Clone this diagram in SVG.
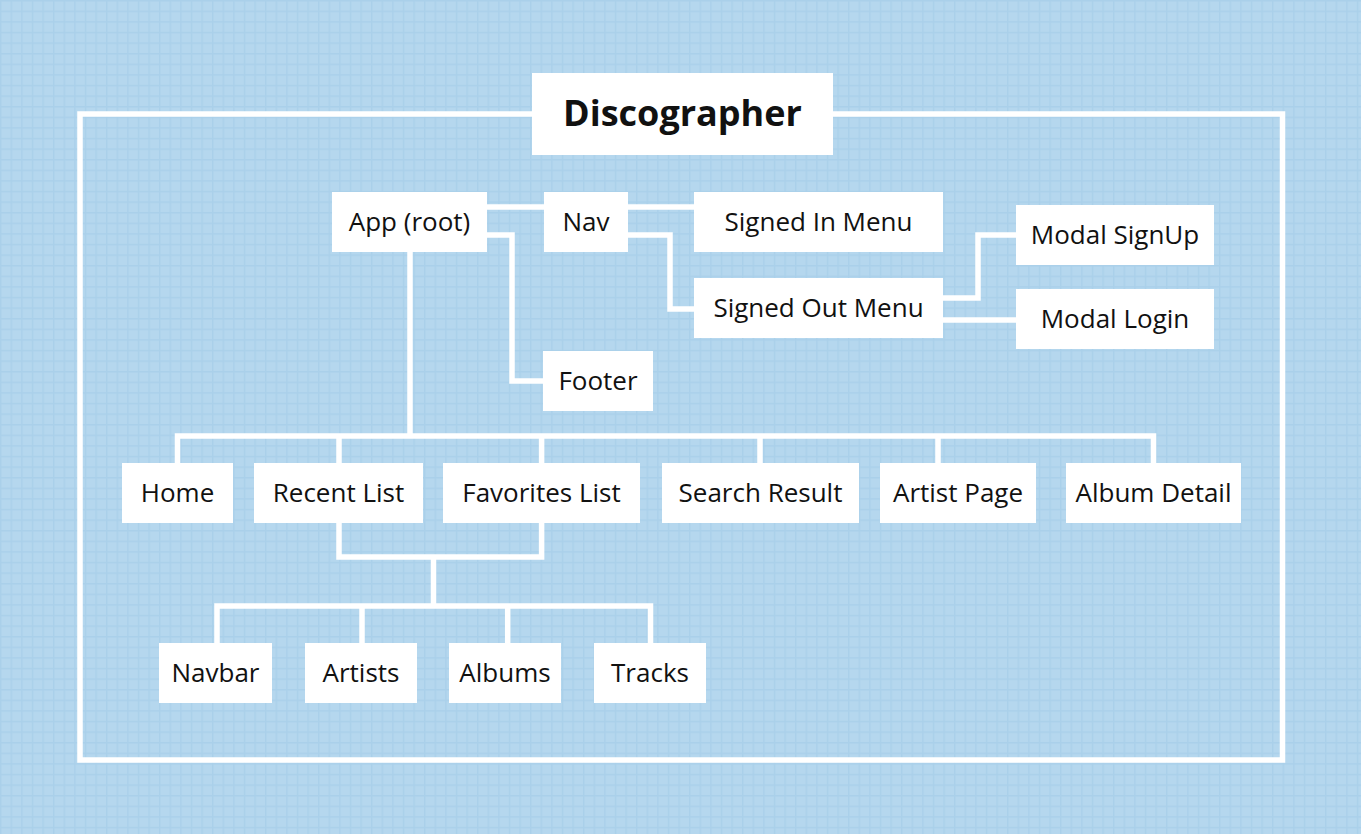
<svg xmlns="http://www.w3.org/2000/svg" width="1361" height="834" viewBox="0 0 1361 834">
  <defs>
    <pattern id="grid" width="10.6" height="10.6" patternUnits="userSpaceOnUse">
      <rect width="10.6" height="10.6" fill="#b5d7ee"/>
      <path d="M0,0.7 H10.6 M0.7,0 V10.6" stroke="#aad0ea" stroke-width="1.4" fill="none"/>
    </pattern>
    <style>
      .box { fill: #ffffff; }
      .lbl { font-family: "Open Sans", "Noto Sans", "Liberation Sans", sans-serif; font-size: 26px; fill: #111111; text-anchor: middle; }
      .title { font-family: "Open Sans", "Noto Sans", "Liberation Sans", sans-serif; font-size: 36px; font-weight: bold; fill: #111111; text-anchor: middle; }
      .wire { fill: none; stroke: #ffffff; stroke-width: 5.5; stroke-linejoin: miter; stroke-linecap: butt; }
    </style>
  </defs>
  <rect width="1361" height="834" fill="url(#grid)"/>
  <rect x="80" y="114" width="1202.5" height="646" fill="none" stroke="#ffffff" stroke-width="5.5"/>

  <g id="connectors">
    <path class="wire" d="M487,207 H694"/>
    <path class="wire" d="M628,235 H670 V309 H694"/>
    <path class="wire" d="M487,235 H512 V381 H543"/>
    <path class="wire" d="M943,298 H978 V235 H1016"/>
    <path class="wire" d="M943,320 H1016"/>
    <path class="wire" d="M410,252 V436"/>
    <path class="wire" d="M177.5,463 V436 H1153.5 V463"/>
    <path class="wire" d="M339,436 V463 M541.6,436 V463 M760,436 V463 M938,436 V463"/>
    <path class="wire" d="M339,523 V557 H541.6 V523"/>
    <path class="wire" d="M433.5,557 V606"/>
    <path class="wire" d="M217,643 V606 H650.5 V643"/>
    <path class="wire" d="M362,606 V643 M507.7,606 V643"/>
  </g>

  <g id="title">
    <rect class="box" x="532" y="73" width="301" height="82"/>
    <text class="title" x="682.5" y="126">Discographer</text>
  </g>
  <g id="app"><rect class="box" x="332" y="192" width="155" height="60"/><text class="lbl" x="409.5" y="231">App (root)</text></g>
  <g id="nav"><rect class="box" x="544" y="192" width="84" height="60"/><text class="lbl" x="586" y="231">Nav</text></g>
  <g id="signed-in-menu"><rect class="box" x="694" y="192" width="249" height="60"/><text class="lbl" x="818.5" y="231">Signed In Menu</text></g>
  <g id="signed-out-menu"><rect class="box" x="694" y="278" width="249" height="60"/><text class="lbl" x="818.5" y="317">Signed Out Menu</text></g>
  <g id="modal-signup"><rect class="box" x="1016" y="205" width="198" height="60"/><text class="lbl" x="1115" y="244">Modal SignUp</text></g>
  <g id="modal-login"><rect class="box" x="1016" y="289" width="198" height="60"/><text class="lbl" x="1115" y="328">Modal Login</text></g>
  <g id="footer"><rect class="box" x="543" y="351" width="110" height="60"/><text class="lbl" x="598" y="390">Footer</text></g>
  <g id="home"><rect class="box" x="122" y="463" width="111" height="60"/><text class="lbl" x="177.5" y="502">Home</text></g>
  <g id="recent-list"><rect class="box" x="254" y="463" width="169" height="60"/><text class="lbl" x="338.5" y="502">Recent List</text></g>
  <g id="favorites-list"><rect class="box" x="443" y="463" width="197" height="60"/><text class="lbl" x="541.5" y="502">Favorites List</text></g>
  <g id="search-result"><rect class="box" x="662" y="463" width="197" height="60"/><text class="lbl" x="760.5" y="502">Search Result</text></g>
  <g id="artist-page"><rect class="box" x="880" y="463" width="156" height="60"/><text class="lbl" x="958" y="502">Artist Page</text></g>
  <g id="album-detail"><rect class="box" x="1066" y="463" width="175" height="60"/><text class="lbl" x="1153.5" y="502">Album Detail</text></g>
  <g id="navbar"><rect class="box" x="159" y="643" width="113" height="60"/><text class="lbl" x="215.5" y="682">Navbar</text></g>
  <g id="artists"><rect class="box" x="305" y="643" width="112" height="60"/><text class="lbl" x="361" y="682">Artists</text></g>
  <g id="albums"><rect class="box" x="449" y="643" width="112" height="60"/><text class="lbl" x="505" y="682">Albums</text></g>
  <g id="tracks"><rect class="box" x="594" y="643" width="112" height="60"/><text class="lbl" x="650" y="682">Tracks</text></g>
</svg>
